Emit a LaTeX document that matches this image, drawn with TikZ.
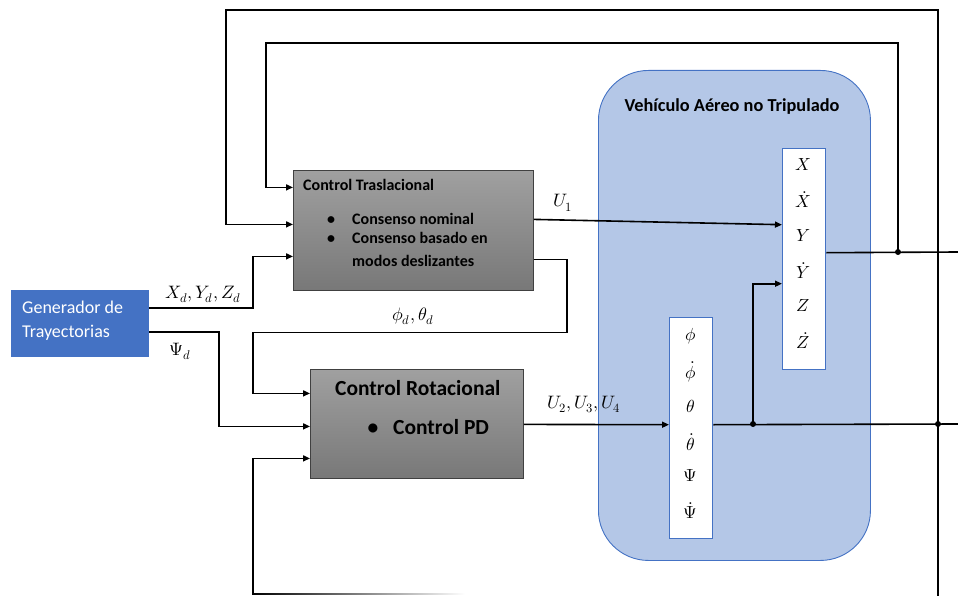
\documentclass[tikz,border=0pt]{standalone}
\usepackage{fontspec}
\usepackage{unicode-math}
\setmainfont{Carlito}
\usetikzlibrary{arrows.meta}

\definecolor{genblue}{RGB}{68,114,196}
\definecolor{uavfill}{RGB}{180,199,231}
\definecolor{boxtop}{RGB}{160,160,160}
\definecolor{boxbot}{RGB}{120,120,120}

\tikzset{
  wire/.style={line width=1.6pt, black},
  arr/.style={wire, -{Triangle[length=7pt,width=6pt]}},
  ctrlbox/.style={rectangle, draw=black!75, line width=0.8pt, top color=boxtop,
    bottom color=boxbot, anchor=north west, inner sep=0pt},
  statebox/.style={rectangle, draw=genblue, line width=1.4pt, fill=white,
    anchor=north west, minimum width=43pt, minimum height=221pt, inner sep=0pt},
  genbox/.style={rectangle, fill=genblue, anchor=north west, minimum width=138pt,
    minimum height=67pt, inner sep=0pt},
  gentext/.style={text=white, font=\fontsize{18}{18}\selectfont, anchor=base west, inner sep=0pt},
  uavbox/.style={rectangle, rounded corners=50pt, draw=genblue, line width=0.9pt,
    fill=uavfill, anchor=north west, minimum width=272pt, minimum height=490pt},
  uavtitle/.style={font=\bfseries\fontsize{18.3}{18.3}\selectfont, anchor=base, inner sep=0pt},
  trtext/.style={font=\bfseries\fontsize{16}{16}\selectfont, anchor=base west, inner sep=0pt},
  rttext/.style={font=\bfseries\fontsize{21.5}{21.5}\selectfont, anchor=base west, inner sep=0pt},
  var/.style={font=\fontsize{17.5}{17.5}\selectfont, inner sep=0pt},
  sig/.style={font=\fontsize{18}{18}\selectfont, anchor=base, inner sep=0pt},
  junction/.style={circle, fill=black, inner sep=0pt, minimum size=6pt},
}

\begin{document}
\begin{tikzpicture}[x=1pt,y=-1pt]
\useasboundingbox (0,0) rectangle (958,596);

% vehicle block
\node[uavbox] (uav) at (598,70) {};
\node[uavtitle] (uavT) at (732,112) {Vehículo Aéreo no Tripulado};

% trajectory generator
\node[genbox] (gen) at (11,290) {};
\node[gentext] (gen1) at (22,313) {Generador de};
\node[gentext] (gen2) at (22,337) {Trayectorias};

% translational controller
\node[ctrlbox, minimum width=240pt, minimum height=120pt] (tras) at (293,170) {};
\node[trtext] (tras0) at (303,191) {Control Traslacional};
\node[trtext, anchor=base] (trasb1) at (331,224) {•};
\node[trtext] (tras1) at (352,224) {Consenso nominal};
\node[trtext, anchor=base] (trasb2) at (331,243) {•};
\node[trtext] (tras2) at (352,243) {Consenso basado en};
\node[trtext] (tras3) at (352,266) {modos deslizantes};

% rotational controller
\node[ctrlbox, minimum width=213pt, minimum height=109pt] (rot) at (310,369) {};
\node[rttext] (rot0) at (335,395) {Control Rotacional};
\node[rttext, anchor=base] (rotb1) at (373,434) {•};
\node[rttext] (rot1) at (393,434) {Control PD};

% state vectors
\node[statebox] (sT) at (782,148) {};
\foreach \v/\y [count=\i] in {X/165, \dot{X}/200, Y/236, \dot{Y}/271, Z/306, \dot{Z}/341}
  \node[var] (sT\i) at (803.5,\y) {$\v$};
\node[statebox] (sR) at (669,317) {};
\foreach \v/\y [count=\i] in {\phi/336, \dot{\phi}/372, \theta/406, \dot{\theta}/442, \Psi/476, \dot{\Psi}/511}
  \node[var] (sR\i) at (690.5,\y) {$\v$};

% junctions and free ends
\node[junction] (jT) at (898,252) {};
\node[junction] (jR) at (753,424) {};
\node[junction] (jR2) at (938,424) {};
\coordinate (outT) at (958,252);
\coordinate (outR) at (958,424);
\coordinate (fbR) at (938,596);
\coordinate (fbL) at (253,594);

% references from the generator
\draw[arr] ([yshift=15.5pt]gen.east) -| ([xshift=-40pt,yshift=-26pt]tras.west) -- ([yshift=-26pt]tras.west);
\draw[arr] ([yshift=-8.5pt]gen.east) -| ([xshift=-91pt,yshift=-2.5pt]rot.west) -- ([yshift=-2.5pt]rot.west);
\node[sig] (lXd) at (203,298) {$X_d,Y_d,Z_d$};
\node[sig] (lPsi) at (180,355) {$\Psi_d$};

% desired attitude from the translational loop
\draw[arr] ([yshift=-29pt]tras.east) -- ++(33,0) -- ++(0,73) -| ([xshift=-57pt,yshift=30.5pt]rot.west) -- ([yshift=30.5pt]rot.west);
\node[sig] (lPhi) at (413,320) {$\phi_d,\theta_d$};

% control inputs
\draw[arr] ([yshift=11pt]tras.east) -- ([yshift=34.5pt]sT.west);
\node[sig] (lU1) at (563,207) {$U_1$};
\draw[arr] ([yshift=-0.5pt]rot.east) -- ([yshift=3.5pt]sR.west);
\node[sig] (lU2) at (584,408) {$U_2,U_3,U_4$};

% outputs
\draw[wire] ([yshift=3.5pt]sR.east) -- (outR);
\draw[arr] (jR.center) |- ([yshift=-24.5pt]sT.west);
\draw[wire] ([yshift=6.5pt]sT.east) -- (outT);

% feedback loops
\draw[arr] (jT.center) -- (898,43) -| ([xshift=-27pt,yshift=43pt]tras.west) -- ([yshift=43pt]tras.west);
\draw[arr] (fbR) -- (938,10) -| ([xshift=-67pt,yshift=6pt]tras.west) -- ([yshift=6pt]tras.west);
\draw[arr] (fbL) |- ([yshift=-34.5pt]rot.west);
\shade[left color=black, right color=white] (252.2,593.2) rectangle (465,594.8);
\end{tikzpicture}
\end{document}
